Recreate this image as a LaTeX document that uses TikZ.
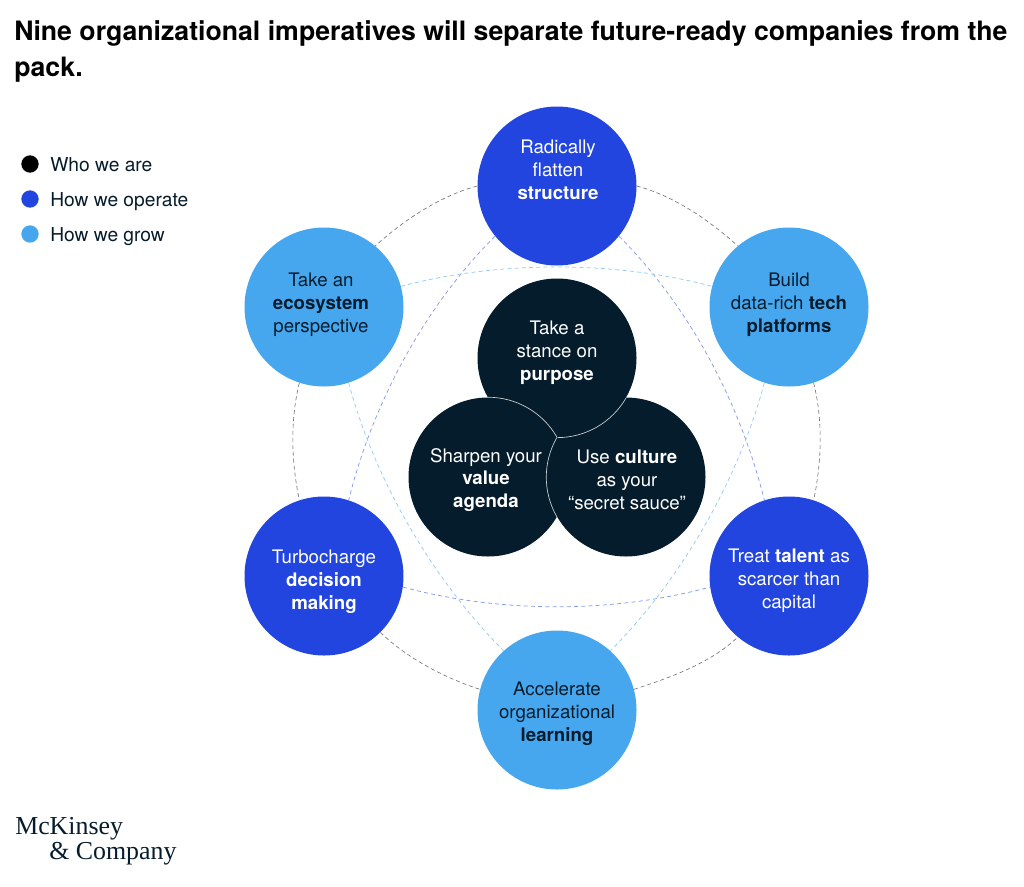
\documentclass[tikz,border=0pt]{standalone}
\usepackage{fontspec}
\setmainfont{TeX Gyre Heros}
\newfontfamily\logofont{Liberation Serif}
\definecolor{navyDisc}{HTML}{051C2C}
\definecolor{blueDisc}{HTML}{2245DF}
\definecolor{skyDisc}{HTML}{47A7EE}
\tikzset{
  disc/.style={circle, inner sep=0pt, minimum size=119.25pt},
  disctext/.style={align=center, font=\fontsize{14}{17.2}\selectfont, inner sep=0pt},
  legenddot/.style={circle, inner sep=0pt, minimum size=13pt},
  legendtext/.style={anchor=base west, inner sep=0pt, text=navyDisc, font=\fontsize{14.4}{17}\selectfont},
  graydash/.style={gray!85!black, line width=0.45pt, dash pattern=on 3pt off 2.2pt},
  bluedash/.style={blueDisc!55!white, line width=0.55pt, dash pattern=on 3pt off 2.4pt},
  skydash/.style={skyDisc!60!white, line width=0.55pt, dash pattern=on 3pt off 2.4pt},
  seam/.style={white!80!navyDisc, line width=0.5pt}
}
\begin{document}
\begin{tikzpicture}[x=0.75pt, y=-0.75pt]
  \useasboundingbox (0,0) rectangle (1024,886);
  \node[anchor=north west, align=left, inner sep=0pt, text=black, font=\bfseries\fontsize{20}{27}\selectfont] (title) at (14,20) {Nine organizational imperatives will separate future-ready companies from the\\pack.};

  \node[legenddot, fill=black] (dotWho) at (30,164) {};
  \node[legenddot, fill=blueDisc] (dotOperate) at (30,199) {};
  \node[legenddot, fill=skyDisc] (dotGrow) at (30,234) {};
  \node[legendtext] (txtWho) at (50,171) {Who we are};
  \node[legendtext] (txtOperate) at (50,206) {How we operate};
  \node[legendtext] (txtGrow) at (50,241) {How we grow};

  \node[disc, fill=blueDisc] (flatten) at (557,186) {};
  \node[disc, fill=skyDisc] (tech) at (789,307) {};
  \node[disc, fill=blueDisc] (talent) at (789,576) {};
  \node[disc, fill=skyDisc] (learning) at (557,710) {};
  \node[disc, fill=blueDisc] (decision) at (324,576) {};
  \node[disc, fill=skyDisc] (ecosystem) at (324,307) {};

  \draw[graydash] (flatten.0) to[out=-15, in=138, distance=29pt] (tech.130);
  \draw[graydash] (tech.-72) to[out=-76, in=78, distance=29pt] (talent.72);
  \draw[graydash] (learning.15) to[out=18, in=224, distance=28pt] (talent.230);
  \draw[graydash] (decision.-45) to[out=-44, in=162, distance=28pt] (learning.165);
  \draw[graydash] (ecosystem.-108) to[out=-104, in=102, distance=29pt] (decision.108);
  \draw[graydash] (flatten.180) to[out=195, in=42, distance=29pt] (ecosystem.50);

  \draw[bluedash] (flatten.219) to[out=225, in=76, distance=75pt] (decision.72);
  \draw[bluedash] (flatten.-39) to[out=-45, in=104, distance=75pt] (talent.108);
  \draw[bluedash] (decision.-8) to[out=-15, in=195, distance=76pt] (talent.188);
  \draw[skydash] (ecosystem.15) to[out=15, in=165, distance=75pt] (tech.165);
  \draw[skydash] (ecosystem.-72) to[out=-75, in=135, distance=75pt] (learning.132);
  \draw[skydash] (tech.-108) to[out=-105, in=45, distance=75pt] (learning.48);

  \node[disc, fill=navyDisc] (value) at (488,477) {};
  \node[disc, fill=navyDisc] (culture) at (626,477) {};
  \node[disc, fill=navyDisc] (purpose) at (557,358) {};
  \fill[navyDisc] (value.30) arc[start angle=30, end angle=90, radius=59.6pt] -- (culture.150) arc[start angle=150, end angle=210, radius=59.6pt] -- cycle;
  \draw[seam] (value.90) arc[start angle=90, end angle=30, radius=59.6pt];
  \draw[seam] (purpose.-30) arc[start angle=-30, end angle=-90, radius=59.6pt];
  \draw[seam] (culture.210) arc[start angle=210, end angle=150, radius=59.6pt];

  \node[disctext, text=white] (txtFlatten) at (558,170) {Radically\\flatten\\\textbf{structure}};
  \node[disctext, text=navyDisc] (txtTech) at (789,305) {Build\\data-rich \textbf{tech}\\\textbf{platforms}};
  \node[disctext, text=white] (txtTalent) at (789,581) {Treat \textbf{talent} as\\scarcer than\\capital};
  \node[disctext, text=navyDisc] (txtLearning) at (557,714) {Accelerate\\organizational\\\textbf{learning}};
  \node[disctext, text=white] (txtDecision) at (324,582) {Turbocharge\\\textbf{decision}\\\textbf{making}};
  \node[disctext, text=navyDisc] (txtEcosystem) at (321,305) {Take an\\\textbf{ecosystem}\\perspective};
  \node[disctext, text=white] (txtPurpose) at (557,353) {Take a\\stance on\\\textbf{purpose}};
  \node[disctext, text=white] (txtValue) at (486,480) {Sharpen your\\\textbf{value}\\\textbf{agenda}};
  \node[disctext, text=white] (txtCulture) at (627,480) {Use \textbf{culture}\\as your\\``secret sauce''};

  \node[anchor=base west, inner sep=0pt, text=navyDisc, font=\logofont\fontsize{19.4}{24}\selectfont] (logoTop) at (15,834) {McKinsey};
  \node[anchor=base west, inner sep=0pt, text=navyDisc, font=\logofont\fontsize{19.4}{24}\selectfont] (logoBottom) at (49,859) {\& Company};
\end{tikzpicture}
\end{document}
